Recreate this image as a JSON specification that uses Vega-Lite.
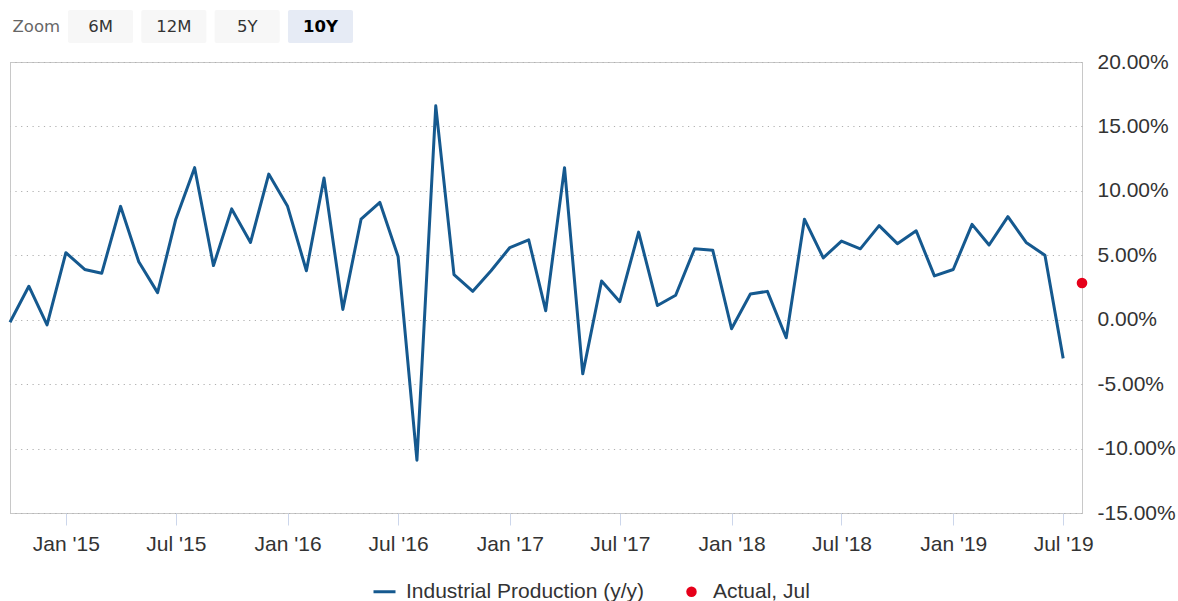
{
  "$schema": "https://vega.github.io/schema/vega-lite/v6.json",
  "padding": {"left": 8, "top": 10, "right": 0, "bottom": 0},
  "background": "white",
  "spacing": 19,
  "bounds": "flush",
  "config": {
    "font": "Liberation Sans",
    "view": {"stroke": "#c8c8c8"},
    "legend": {"layout": {"bottom": {"anchor": "middle"}}}
  },
  "datasets": {
    "buttons": [
      {"label": "6M", "selected": false},
      {"label": "12M", "selected": false},
      {"label": "5Y", "selected": false},
      {"label": "10Y", "selected": true}
    ],
    "series": [
      {"date": "2014-10-01", "value": -0.2, "series": "Industrial Production (y/y)"},
      {"date": "2014-11-01", "value": 2.6, "series": "Industrial Production (y/y)"},
      {"date": "2014-12-01", "value": -0.4, "series": "Industrial Production (y/y)"},
      {"date": "2015-01-01", "value": 5.2, "series": "Industrial Production (y/y)"},
      {"date": "2015-02-01", "value": 3.9, "series": "Industrial Production (y/y)"},
      {"date": "2015-03-01", "value": 3.6, "series": "Industrial Production (y/y)"},
      {"date": "2015-04-01", "value": 8.8, "series": "Industrial Production (y/y)"},
      {"date": "2015-05-01", "value": 4.5, "series": "Industrial Production (y/y)"},
      {"date": "2015-06-01", "value": 2.1, "series": "Industrial Production (y/y)"},
      {"date": "2015-07-01", "value": 7.8, "series": "Industrial Production (y/y)"},
      {"date": "2015-08-01", "value": 11.8, "series": "Industrial Production (y/y)"},
      {"date": "2015-09-01", "value": 4.2, "series": "Industrial Production (y/y)"},
      {"date": "2015-10-01", "value": 8.6, "series": "Industrial Production (y/y)"},
      {"date": "2015-11-01", "value": 6.0, "series": "Industrial Production (y/y)"},
      {"date": "2015-12-01", "value": 11.3, "series": "Industrial Production (y/y)"},
      {"date": "2016-01-01", "value": 8.8, "series": "Industrial Production (y/y)"},
      {"date": "2016-02-01", "value": 3.8, "series": "Industrial Production (y/y)"},
      {"date": "2016-03-01", "value": 11.0, "series": "Industrial Production (y/y)"},
      {"date": "2016-04-01", "value": 0.8, "series": "Industrial Production (y/y)"},
      {"date": "2016-05-01", "value": 7.8, "series": "Industrial Production (y/y)"},
      {"date": "2016-06-01", "value": 9.1, "series": "Industrial Production (y/y)"},
      {"date": "2016-07-01", "value": 4.9, "series": "Industrial Production (y/y)"},
      {"date": "2016-08-01", "value": -10.9, "series": "Industrial Production (y/y)"},
      {"date": "2016-09-01", "value": 16.6, "series": "Industrial Production (y/y)"},
      {"date": "2016-10-01", "value": 3.5, "series": "Industrial Production (y/y)"},
      {"date": "2016-11-01", "value": 2.2, "series": "Industrial Production (y/y)"},
      {"date": "2016-12-01", "value": 3.8, "series": "Industrial Production (y/y)"},
      {"date": "2017-01-01", "value": 5.6, "series": "Industrial Production (y/y)"},
      {"date": "2017-02-01", "value": 6.2, "series": "Industrial Production (y/y)"},
      {"date": "2017-03-01", "value": 0.7, "series": "Industrial Production (y/y)"},
      {"date": "2017-04-01", "value": 11.8, "series": "Industrial Production (y/y)"},
      {"date": "2017-05-01", "value": -4.2, "series": "Industrial Production (y/y)"},
      {"date": "2017-06-01", "value": 3.0, "series": "Industrial Production (y/y)"},
      {"date": "2017-07-01", "value": 1.4, "series": "Industrial Production (y/y)"},
      {"date": "2017-08-01", "value": 6.8, "series": "Industrial Production (y/y)"},
      {"date": "2017-09-01", "value": 1.1, "series": "Industrial Production (y/y)"},
      {"date": "2017-10-01", "value": 1.9, "series": "Industrial Production (y/y)"},
      {"date": "2017-11-01", "value": 5.5, "series": "Industrial Production (y/y)"},
      {"date": "2017-12-01", "value": 5.4, "series": "Industrial Production (y/y)"},
      {"date": "2018-01-01", "value": -0.7, "series": "Industrial Production (y/y)"},
      {"date": "2018-02-01", "value": 2.0, "series": "Industrial Production (y/y)"},
      {"date": "2018-03-01", "value": 2.2, "series": "Industrial Production (y/y)"},
      {"date": "2018-04-01", "value": -1.4, "series": "Industrial Production (y/y)"},
      {"date": "2018-05-01", "value": 7.8, "series": "Industrial Production (y/y)"},
      {"date": "2018-06-01", "value": 4.8, "series": "Industrial Production (y/y)"},
      {"date": "2018-07-01", "value": 6.1, "series": "Industrial Production (y/y)"},
      {"date": "2018-08-01", "value": 5.5, "series": "Industrial Production (y/y)"},
      {"date": "2018-09-01", "value": 7.3, "series": "Industrial Production (y/y)"},
      {"date": "2018-10-01", "value": 5.9, "series": "Industrial Production (y/y)"},
      {"date": "2018-11-01", "value": 6.9, "series": "Industrial Production (y/y)"},
      {"date": "2018-12-01", "value": 3.4, "series": "Industrial Production (y/y)"},
      {"date": "2019-01-01", "value": 3.9, "series": "Industrial Production (y/y)"},
      {"date": "2019-02-01", "value": 7.4, "series": "Industrial Production (y/y)"},
      {"date": "2019-03-01", "value": 5.8, "series": "Industrial Production (y/y)"},
      {"date": "2019-04-01", "value": 8.0, "series": "Industrial Production (y/y)"},
      {"date": "2019-05-01", "value": 6.0, "series": "Industrial Production (y/y)"},
      {"date": "2019-06-01", "value": 5.0, "series": "Industrial Production (y/y)"},
      {"date": "2019-07-01", "value": -3.0, "series": "Industrial Production (y/y)"},
      {"date": "2019-08-01", "value": 2.85, "series": "Actual, Jul"}
    ]
  },
  "vconcat": [
    {
      "width": 401,
      "height": 33,
      "view": {"stroke": null},
      "data": {"name": "buttons"},
      "encoding": {
        "x": {
          "field": "label",
          "type": "nominal",
          "sort": null,
          "scale": {"domain": ["6M", "12M", "5Y", "10Y"], "paddingInner": 0.113, "paddingOuter": 0.791},
          "axis": null
        },
        "y": {
          "datum": "Zoom",
          "type": "nominal",
          "scale": {"paddingInner": 0, "paddingOuter": 0},
          "axis": {
            "orient": "left",
            "title": null,
            "domain": false,
            "ticks": false,
            "tickSize": 0,
            "labelAlign": "left",
            "labelBaseline": "middle",
            "labelPadding": -2,
            "labelFont": "DejaVu Sans",
            "labelFontSize": 16.5,
            "labelColor": "#666666",
            "minExtent": 0
          }
        }
      },
      "layer": [
        {
          "mark": {"type": "rect", "cornerRadius": 2},
          "encoding": {
            "fill": {"condition": {"test": "datum.selected", "value": "#e6ebf5"}, "value": "#f7f7f7"}
          }
        },
        {
          "transform": [{"filter": "!datum.selected"}],
          "mark": {"type": "text", "font": "DejaVu Sans", "fontSize": 16.5, "color": "#333333"},
          "encoding": {"text": {"field": "label"}}
        },
        {
          "transform": [{"filter": "datum.selected"}],
          "mark": {"type": "text", "font": "DejaVu Sans", "fontSize": 16.5, "fontWeight": "bold", "color": "#000000"},
          "encoding": {"text": {"field": "label"}}
        }
      ]
    },
    {
      "width": 1072,
      "height": 451,
      "data": {"name": "series"},
      "encoding": {
        "x": {
          "field": "date",
          "type": "temporal",
          "scale": {
            "type": "utc",
            "domain": [
              {"year": 2014, "month": 10, "date": 1, "utc": true},
              {"year": 2019, "month": 8, "date": 1, "utc": true}
            ]
          },
          "axis": {
            "title": null,
            "grid": false,
            "domain": false,
            "values": [
              {"year": 2015, "month": 1, "date": 1, "utc": true},
              {"year": 2015, "month": 7, "date": 1, "utc": true},
              {"year": 2016, "month": 1, "date": 1, "utc": true},
              {"year": 2016, "month": 7, "date": 1, "utc": true},
              {"year": 2017, "month": 1, "date": 1, "utc": true},
              {"year": 2017, "month": 7, "date": 1, "utc": true},
              {"year": 2018, "month": 1, "date": 1, "utc": true},
              {"year": 2018, "month": 7, "date": 1, "utc": true},
              {"year": 2019, "month": 1, "date": 1, "utc": true},
              {"year": 2019, "month": 7, "date": 1, "utc": true}
            ],
            "labelExpr": "utcFormat(datum.value, \"%b '%y\")",
            "ticks": true,
            "tickColor": "#ccd6eb",
            "tickSize": 12,
            "tickWidth": 1,
            "labelPadding": 8,
            "labelFont": "Liberation Sans",
            "labelFontSize": 21,
            "labelColor": "#333333",
            "labelFlush": false,
            "labelOverlap": false
          }
        },
        "y": {
          "field": "value",
          "type": "quantitative",
          "scale": {"domain": [-15, 20], "nice": false, "zero": false},
          "axis": {
            "orient": "right",
            "title": null,
            "values": [-15, -10, -5, 0, 5, 10, 15, 20],
            "labelExpr": "(datum.value < 0 ? '-' : '') + format(abs(datum.value), '.2f') + '%'",
            "domain": false,
            "ticks": false,
            "tickSize": 0,
            "labelPadding": 15,
            "labelAlign": "left",
            "labelBaseline": "middle",
            "labelFont": "Liberation Sans",
            "labelFontSize": 21,
            "labelColor": "#333333",
            "labelFlush": false,
            "labelOverlap": false,
            "grid": true,
            "gridColor": "#b0b0b0",
            "gridDash": [1.2, 4.5],
            "gridWidth": 1.2
          }
        },
        "color": {
          "field": "series",
          "type": "nominal",
          "scale": {
            "domain": ["Industrial Production (y/y)", "Actual, Jul"],
            "range": ["#15598f", "#e6001a"]
          },
          "legend": {
            "title": null,
            "orient": "bottom",
            "direction": "horizontal",
            "labelFont": "Liberation Sans",
            "labelFontSize": 21,
            "labelColor": "#333333",
            "labelLimit": 500,
            "symbolSize": 484,
            "labelOffset": 11,
            "columnPadding": 36,
            "offset": 26,
            "encode": {
              "symbols": {
                "update": {
                  "shape": {"signal": "datum.value === 'Actual, Jul' ? 'circle' : 'stroke'"},
                  "size": {"signal": "datum.value === 'Actual, Jul' ? 110 : 484"},
                  "stroke": {"scale": "color", "field": "value"},
                  "fill": {"scale": "color", "field": "value"},
                  "strokeWidth": {"signal": "datum.value === 'Actual, Jul' ? 0 : 3"},
                  "opacity": {"value": 1},
                  "fillOpacity": {"value": 1},
                  "strokeOpacity": {"value": 1}
                }
              }
            }
          }
        }
      },
      "layer": [
        {
          "transform": [{"filter": "datum.series === 'Industrial Production (y/y)'"}],
          "mark": {"type": "line", "strokeWidth": 3, "strokeJoin": "round"}
        },
        {
          "transform": [{"filter": "datum.series === 'Actual, Jul'"}],
          "mark": {"type": "point", "filled": true, "size": 113, "opacity": 1}
        }
      ]
    }
  ]
}
